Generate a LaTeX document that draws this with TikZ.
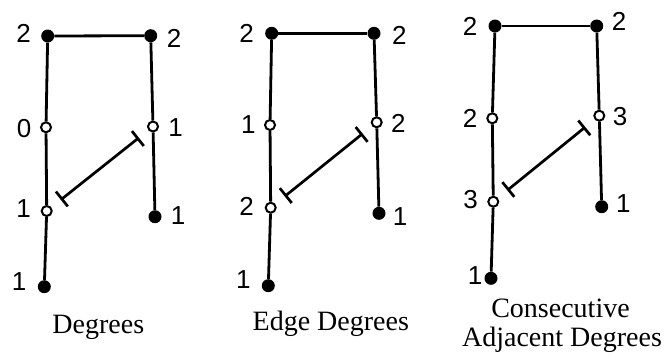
\documentclass[tikz,border=0pt]{standalone}
\usepackage{fontspec}
\setmainfont{Liberation Serif}
\newfontfamily\numfont{Liberation Sans}
\usetikzlibrary{arrows.meta}
\begin{document}
\begin{tikzpicture}[x=1pt,y=-1pt,
  full/.style={circle,fill=black,inner sep=0pt,minimum size=13pt},
  hollow/.style={circle,draw=black,fill=white,line width=2pt,inner sep=0pt,minimum size=10pt},
  edge/.style={line width=2.8pt},
  tbar/.style={line width=2.7pt,{Bar[width=19pt]}-{Bar[width=19pt]},shorten <=12pt,shorten >=12pt},
  num/.style={font=\numfont\fontsize{26}{26}\selectfont,inner sep=0pt},
  caption/.style={font=\fontsize{28}{29}\selectfont,anchor=base,inner sep=0pt}]
\useasboundingbox (0,0) rectangle (667,360);

% ---------- Panel 1: Degrees ----------
\node[full]   (A1) at (47.7,36) {};
\node[full]   (B1) at (150.7,35.7) {};
\node[hollow] (C1) at (46,127.3) {};
\node[hollow] (D1) at (153,126.5) {};
\node[hollow] (E1) at (46.7,211) {};
\node[full]   (F1) at (155,216.7) {};
\node[full]   (G1) at (44.3,286.7) {};
\draw[edge] (A1) -- (B1);
\draw[edge] (A1) -- (C1);
\draw[edge] (C1) -- (E1);
\draw[edge] (E1) -- (G1);
\draw[edge] (B1) -- (D1);
\draw[edge] (D1) -- (F1);
\draw[tbar] (E1) -- (D1);
\node[num] (lA1) at (23.7,33.5) {2};
\node[num] (lB1) at (174,38) {2};
\node[num] (lC1) at (24,128.3) {0};
\node[num] (lD1) at (175.5,127.5) {1};
\node[num] (lE1) at (23.7,208.3) {1};
\node[num] (lF1) at (178,216) {1};
\node[num] (lG1) at (19,282) {1};
\node[caption] (cap1) at (98.3,333) {Degrees};

% ---------- Panel 2: Edge Degrees ----------
\node[full]   (A2) at (271.7,33.3) {};
\node[full]   (B2) at (374,33.3) {};
\node[hollow] (C2) at (270,125) {};
\node[hollow] (D2) at (376.7,122.3) {};
\node[hollow] (E2) at (270.7,207.7) {};
\node[full]   (F2) at (379,213.3) {};
\node[full]   (G2) at (268.3,285.7) {};
\draw[edge] (A2) -- (B2);
\draw[edge] (A2) -- (C2);
\draw[edge] (C2) -- (E2);
\draw[edge] (E2) -- (G2);
\draw[edge] (B2) -- (D2);
\draw[edge] (D2) -- (F2);
\draw[tbar] (E2) -- (D2);
\node[num] (lA2) at (246.7,33.3) {2};
\node[num] (lB2) at (399.3,35) {2};
\node[num] (lC2) at (248.3,125) {1};
\node[num] (lD2) at (398.3,123.3) {2};
\node[num] (lE2) at (246.7,206) {2};
\node[num] (lF2) at (400,216.7) {1};
\node[num] (lG2) at (243.3,280) {1};
\node[caption] (cap2) at (330.8,330) {Edge Degrees};

% ---------- Panel 3: Consecutive Adjacent Degrees ----------
\node[full]   (A3) at (495,26) {};
\node[full]   (B3) at (596.7,26) {};
\node[hollow] (C3) at (492.3,118.3) {};
\node[hollow] (D3) at (599.3,115.7) {};
\node[hollow] (E3) at (493.3,201.7) {};
\node[full]   (F3) at (601.7,206.7) {};
\node[full]   (G3) at (491,278.3) {};
\draw[edge] (A3) -- (B3);
\draw[edge] (A3) -- (C3);
\draw[edge] (C3) -- (E3);
\draw[edge] (E3) -- (G3);
\draw[edge] (B3) -- (D3);
\draw[edge] (D3) -- (F3);
\draw[tbar] (E3) -- (D3);
\node[num] (lA3) at (470,26) {2};
\node[num] (lB3) at (619,21.7) {2};
\node[num] (lC3) at (470,118.3) {2};
\node[num] (lD3) at (620,116.7) {3};
\node[num] (lE3) at (470.7,200) {3};
\node[num] (lF3) at (623.3,204) {1};
\node[num] (lG3) at (475,276) {1};
\node[caption] (cap3a) at (560.5,317.3) {Consecutive};
\node[caption] (cap3b) at (562,346) {Adjacent Degrees};
\end{tikzpicture}
\end{document}
